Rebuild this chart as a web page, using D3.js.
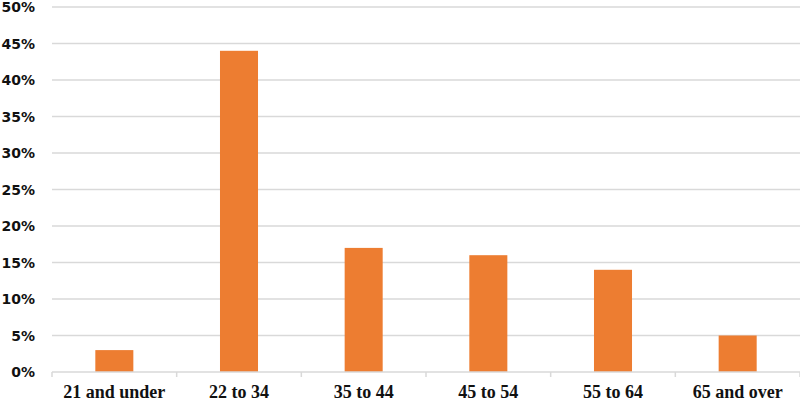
<!DOCTYPE html>
<html><head><meta charset="utf-8">
<script src="https://cdn.jsdelivr.net/npm/d3@7"></script>
<style>html,body{margin:0;padding:0;background:#fff;}</style>
</head><body>
<svg id="chart" width="800" height="401"></svg>
<script>
const categories = ["21 and under","22 to 34","35 to 44","45 to 54","55 to 64","65 and over"];
const values = [3, 44, 17, 16, 14, 5];
const yTicks = [0,5,10,15,20,25,30,35,40,45,50];

(function () {
const svg = d3.select("#chart");
const mLeft = 52, mRight = 800, mTop = 7, mBottom = 372;

const x = d3.scaleBand().domain(categories).range([mLeft, mRight]).paddingInner(0.695).paddingOuter(0.3475);
const xb = d3.scaleBand().domain(categories).range([mLeft, mRight]);
const y = d3.scaleLinear().domain([0, 50]).range([mBottom, mTop]);

// gridlines
svg.append("g").selectAll("line").data(yTicks.filter(d => d > 0)).join("line")
  .attr("x1", mLeft).attr("x2", mRight)
  .attr("y1", d => y(d)).attr("y2", d => y(d))
  .attr("stroke", "#d9d9d9").attr("stroke-width", 1.5);

// y labels
svg.append("g").selectAll("text").data(yTicks).join("text")
  .attr("x", 35).attr("y", d => y(d)).attr("dy", "0.36em")
  .attr("text-anchor", "end")
  .attr("font-family", "DejaVu Sans, Verdana, sans-serif")
  .attr("font-weight", "bold").attr("font-size", 14).attr("fill", "#111")
  .text(d => d + "%");

// bars
svg.append("g").selectAll("rect").data(values).join("rect")
  .attr("x", (d, i) => x(categories[i]))
  .attr("width", x.bandwidth())
  .attr("y", d => y(d))
  .attr("height", d => y(0) - y(d))
  .attr("fill", "#ED7D31");

// x axis line and ticks
svg.append("line").attr("x1", mLeft).attr("x2", mRight)
  .attr("y1", y(0)).attr("y2", y(0))
  .attr("stroke", "#d9d9d9").attr("stroke-width", 1.5);
const bounds = categories.map(c => xb(c)).concat([mRight]);
svg.append("g").selectAll("line").data(bounds).join("line")
  .attr("x1", d => d).attr("x2", d => d)
  .attr("y1", y(0)).attr("y2", y(0) + 5)
  .attr("stroke", "#d9d9d9").attr("stroke-width", 1.5);

// x labels
svg.append("g").selectAll("text").data(categories).join("text")
  .attr("x", d => xb(d) + xb.bandwidth() / 2).attr("y", 398)
  .attr("text-anchor", "middle")
  .attr("font-family", "Liberation Serif, Times New Roman, serif")
  .attr("font-weight", "bold").attr("font-size", 18).attr("fill", "#111")
  .text(d => d);
})();
</script>
</body></html>
